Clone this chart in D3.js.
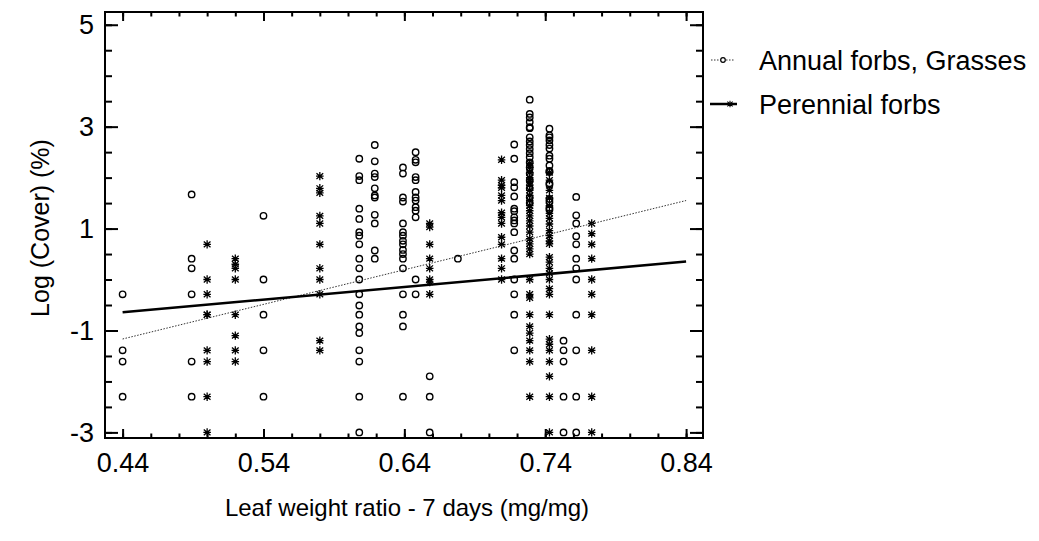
<!DOCTYPE html>
<html><head><meta charset="utf-8">
<script src="https://cdn.jsdelivr.net/npm/d3@7"></script>
<style>body{margin:0;background:#fff} text{font-family:"Liberation Sans",Arial,sans-serif;fill:#000}</style>
</head><body><svg id="c" width="1039" height="541"></svg>
<script>
const xTicks = [0.44, 0.54, 0.64, 0.74, 0.84];
const yTicks = [-3, -1, 1, 3, 5];
const xTickLabels = ["0.44", "0.54", "0.64", "0.74", "0.84"];
const yTickLabels = ["-3", "-1", "1", "3", "5"];
const seriesNames = ["Annual forbs, Grasses", "Perennial forbs"];
const xTitle = "Leaf weight ratio - 7 days (mg/mg)";
const yTitle = "Log (Cover) (%)";

// Annual forbs, Grasses (circles): column x and the y values in that column
const annualX = [0.44, 0.489, 0.54, 0.608, 0.619, 0.639, 0.648, 0.658, 0.678, 0.718, 0.729, 0.743, 0.753, 0.762];
const annualY = [
  [-0.29, -1.39, -1.61, -2.3],
  [1.67, 0.41, 0.22, -0.29, -1.61, -2.3],
  [1.25, 0, -0.69, -1.39, -2.3],
  [2.37, 2.03, 1.95, 1.39, 1.19, 0.93, 0.86, 0.69, 0.41, 0.22, 0, -0.29, -0.51, -0.69, -0.92, -1.05, -1.39, -1.61, -2.3, -3.0],
  [2.64, 2.32, 2.08, 2.01, 1.79, 1.65, 1.61, 1.27, 1.1, 0.57, 0.41],
  [2.2, 2.08, 1.61, 1.53, 1.1, 0.93, 0.86, 0.76, 0.69, 0.58, 0.5, 0.41, 0.22, -0.29, -0.69, -0.92, -2.3],
  [2.5, 2.35, 2.3, 2.01, 1.95, 1.72, 1.61, 1.55, 1.42, 1.35, 1.22, 0, -0.29],
  [-1.9, -2.3, -3.0],
  [0.41],
  [2.65, 2.37, 1.91, 1.81, 1.63, 1.39, 1.34, 1.22, 1.16, 1.1, 0.93, 0.57, 0.41, 0, -0.29, -0.69, -1.39],
  [3.53, 3.25, 3.18, 3.09, 2.99, 2.97, 2.79, 2.71, 2.64, 2.56, 2.48, 2.4, 2.3, 2.2, 2.08, 1.95, 1.79, 1.61, 1.5],
  [2.96, 2.83, 2.79, 2.73, 2.64, 2.57, 2.43, 2.37, 2.24, 2.13, 2.11, 1.89, 1.86, 1.58, 1.52, 1.41, 1.37],
  [-1.2, -1.39, -1.61, -2.3, -3.0],
  [1.62, 1.26, 1.1, 0.85, 0.69, 0.41, 0.22, 0, -0.69, -1.39, -2.3, -3.0]
];

// Perennial forbs (asterisks)
const perennialX = [0.50, 0.52, 0.58, 0.658, 0.709, 0.729, 0.743, 0.773];
const perennialY = [
  [0.69, 0, -0.29, -0.69, -0.69, -1.39, -1.61, -2.3, -3.0],
  [0.41, 0.3, 0.22, 0, -0.69, -1.1, -1.39, -1.61],
  [2.03, 1.79, 1.7, 1.25, 1.1, 0.69, 0.22, 0, -0.29, -1.2, -1.39],
  [1.1, 1.03, 0.69, 0.41, 0.22, 0, -0.05, -0.29],
  [2.35, 1.95, 1.85, 1.8, 1.65, 1.55, 1.31, 1.22, 1.1, 0.83, 0.69, 0.41, 0.22, 0],
  [2.28, 2.2, 2.1, 2.0, 1.92, 1.85, 1.75, 1.65, 1.55, 1.45, 1.35, 1.25, 1.15, 1.05, 0.93, 0.8, 0.7, 0.6, 0.5, 0, -0.29, -0.36, -0.69, -0.92, -1.05, -1.2, -1.39, -1.61, -2.3],
  [2.1, 1.95, 1.75, 1.6, 1.45, 1.3, 1.2, 1.09, 0.96, 0.86, 0.76, 0.7, 0.44, 0.34, 0.22, 0.12, 0, -0.18, -0.29, -0.69, -1.17, -1.27, -1.39, -1.61, -1.9, -2.3, -3.0],
  [1.1, 0.9, 0.69, 0.41, 0, -0.29, -0.69, -1.39, -2.3, -3.0]
];

// fitted regression lines (endpoints)
const annualFit = [[0.44, -1.167], [0.84, 1.55]];
const perennialFit = [[0.44, -0.644], [0.84, 0.352]];

const svg = d3.select("#c");
const L = 105, R = 703, T = 12, B = 438;
const x = d3.scaleLinear().domain([0.4275, 0.852]).range([L, R]);
const y = d3.scaleLinear().domain([-3.11, 5.25]).range([B, T]);

const xMinor = d3.range(0.44, 0.8401, 0.02).map(v => +v.toFixed(2));
const yMinor = d3.range(-3, 5.01, 0.5);
const FONT = "Liberation Sans, Arial, sans-serif";

function styleAxis(g) {
  g.select(".domain").remove();
  g.selectAll("line").attr("stroke", "#000").attr("stroke-width", 2);
}
// bottom / top
svg.append("g").attr("transform", `translate(0,${B})`)
  .call(d3.axisBottom(x).tickValues(xMinor).tickSize(-4.5).tickFormat("")).call(styleAxis);
svg.append("g").attr("transform", `translate(0,${B})`)
  .call(d3.axisBottom(x).tickValues(xTicks).tickSize(-9).tickPadding(15).tickFormat((d, i) => xTickLabels[i]))
  .call(styleAxis)
  .call(g => g.selectAll("text").attr("font-size", 27).attr("font-family", FONT));
svg.append("g").attr("transform", `translate(0,${T})`)
  .call(d3.axisTop(x).tickValues(xMinor).tickSize(-4.5).tickFormat("")).call(styleAxis);
svg.append("g").attr("transform", `translate(0,${T})`)
  .call(d3.axisTop(x).tickValues(xTicks).tickSize(-9).tickFormat("")).call(styleAxis);
// left / right
svg.append("g").attr("transform", `translate(${L},0)`)
  .call(d3.axisLeft(y).tickValues(yMinor).tickSize(-7).tickFormat("")).call(styleAxis);
svg.append("g").attr("transform", `translate(${L},0)`)
  .call(d3.axisLeft(y).tickValues(yTicks).tickSize(-13).tickPadding(11).tickFormat((d, i) => yTickLabels[i]))
  .call(styleAxis)
  .call(g => g.selectAll("text").attr("font-size", 27).attr("font-family", FONT));
svg.append("g").attr("transform", `translate(${R},0)`)
  .call(d3.axisRight(y).tickValues(yMinor).tickSize(-7).tickFormat("")).call(styleAxis);
svg.append("g").attr("transform", `translate(${R},0)`)
  .call(d3.axisRight(y).tickValues(yTicks).tickSize(-13).tickFormat("")).call(styleAxis);

// frame
svg.append("rect").attr("x", L).attr("y", T).attr("width", R - L).attr("height", B - T)
  .attr("fill", "none").attr("stroke", "#000").attr("stroke-width", 2);

// points
const annualPts = annualX.flatMap((cx, i) => annualY[i].map(v => [cx, v]));
const perennialPts = perennialX.flatMap((cx, i) => perennialY[i].map(v => [cx, v]));

const plot = svg.append("g");
plot.selectAll("circle.a").data(annualPts).join("circle")
  .attr("cx", d => x(d[0])).attr("cy", d => y(d[1])).attr("r", 3.2)
  .attr("fill", "none").attr("stroke", "#000").attr("stroke-width", 1.4);

const ast = 4.2;
function asterisk(sel) {
  sel.append("path").attr("d",
    `M0,${-ast}V${ast}M${-ast*0.8},${-ast*0.7}L${ast*0.8},${ast*0.7}M${-ast*0.8},${ast*0.7}L${ast*0.8},${-ast*0.7}M${-ast*0.9},0H${ast*0.9}`)
    .attr("stroke", "#000").attr("stroke-width", 1.3).attr("fill", "none");
}
plot.selectAll("g.p").data(perennialPts).join("g")
  .attr("transform", d => `translate(${x(d[0])},${y(d[1])})`).call(asterisk);

// fit lines
const line = d3.line().x(d => x(d[0])).y(d => y(d[1]));
plot.append("path").attr("d", line(annualFit)).attr("fill", "none")
  .attr("stroke", "#333").attr("stroke-width", 1).attr("stroke-dasharray", "1.5,1.5");
plot.append("path").attr("d", line(perennialFit)).attr("fill", "none")
  .attr("stroke", "#000").attr("stroke-width", 2.5);

// legend
const leg = svg.append("g");
const legY = [60, 104];
leg.append("line").attr("x1", 711).attr("x2", 734).attr("y1", legY[0]).attr("y2", legY[0])
  .attr("stroke", "#333").attr("stroke-width", 1).attr("stroke-dasharray", "1.5,1.5");
leg.append("circle").attr("cx", 723).attr("cy", legY[0]).attr("r", 2.3)
  .attr("fill", "#fff").attr("stroke", "#000").attr("stroke-width", 1.2);
leg.append("line").attr("x1", 710).attr("x2", 737).attr("y1", legY[1]).attr("y2", legY[1])
  .attr("stroke", "#000").attr("stroke-width", 2.5);
leg.append("g").attr("transform", `translate(730,${legY[1]}) scale(0.8)`).call(asterisk);
leg.selectAll("text").data(seriesNames).join("text")
  .attr("x", 759).attr("y", (d, i) => legY[i]).attr("dy", "0.36em")
  .attr("font-size", 27).text(d => d);

// titles
svg.append("text").attr("x", 407).attr("y", 507).attr("dy", "0.36em").attr("text-anchor", "middle")
  .attr("font-size", 24).text(xTitle);
svg.append("text").attr("transform", "translate(40,228) rotate(-90)").attr("dy", "0.36em")
  .attr("text-anchor", "middle").attr("font-size", 25).text(yTitle);
</script></body></html>
